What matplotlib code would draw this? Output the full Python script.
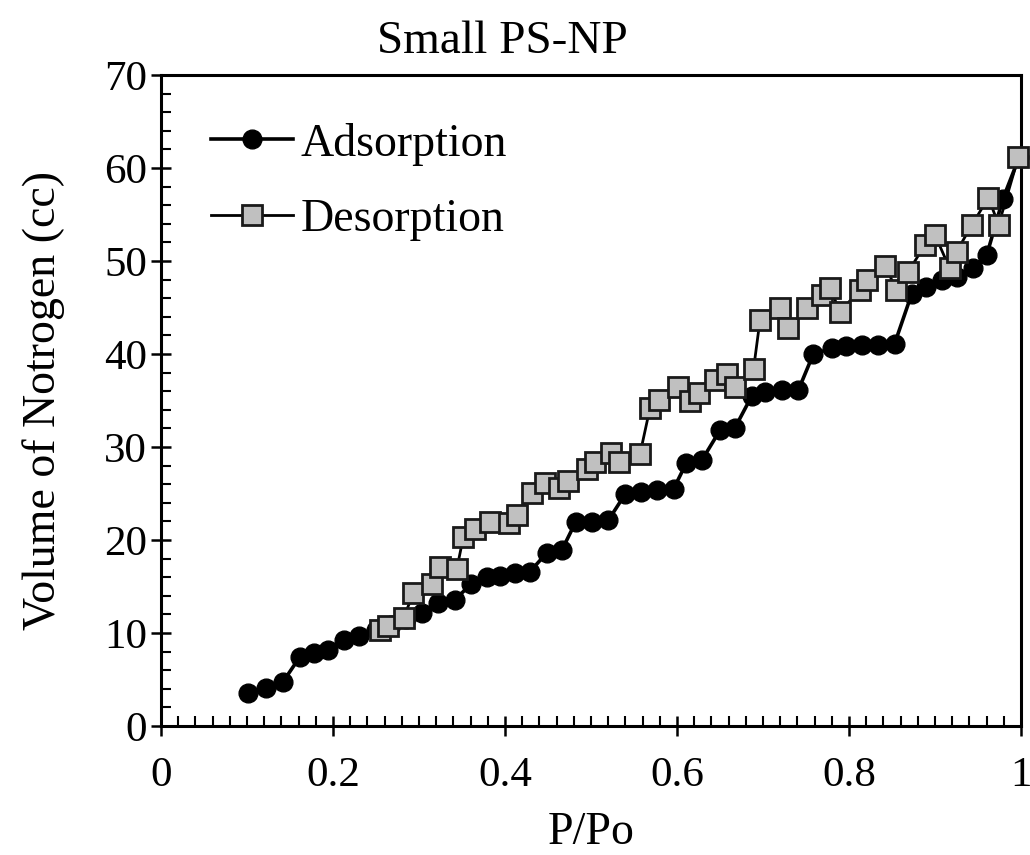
import matplotlib
matplotlib.use("Agg")
import matplotlib.pyplot as plt
from matplotlib.ticker import MultipleLocator, FuncFormatter

plt.rcParams['font.family'] = ['Liberation Serif', 'DejaVu Serif']

ads_x = [0.101, 0.122, 0.1415, 0.1616, 0.178, 0.1945, 0.2128, 0.2306, 0.25, 0.268,
         0.285, 0.303, 0.3225, 0.342, 0.361, 0.379, 0.394, 0.4116, 0.429, 0.4485,
         0.466, 0.482, 0.501, 0.52, 0.5395, 0.558, 0.577, 0.596, 0.611, 0.629,
         0.65, 0.667, 0.687, 0.702, 0.722, 0.741, 0.7585, 0.78, 0.797, 0.815,
         0.834, 0.853, 0.873, 0.89, 0.908, 0.925, 0.9445, 0.96, 0.979, 0.998]
ads_y = [3.6, 4.05, 4.7, 7.45, 7.9, 8.2, 9.25, 9.7, 10.3, 10.9,
         11.5, 12.1, 13.2, 13.6, 15.3, 16.0, 16.1, 16.4, 16.6, 18.6,
         18.9, 21.9, 21.95, 22.1, 24.9, 25.2, 25.4, 25.5, 28.3, 28.6,
         31.8, 32.0, 35.5, 35.9, 36.1, 36.1, 40.0, 40.6, 40.9, 41.0,
         41.0, 41.1, 46.5, 47.2, 48.0, 48.3, 49.2, 50.6, 56.7, 61.2]

des_x = [0.2547, 0.264, 0.282, 0.2935, 0.315, 0.3244, 0.344, 0.3515, 0.365, 0.3826,
         0.405, 0.4136, 0.431, 0.4465, 0.463, 0.4736, 0.495, 0.5047, 0.523, 0.533,
         0.557, 0.5686, 0.579, 0.6015, 0.615, 0.625, 0.644, 0.658, 0.667, 0.689,
         0.6965, 0.72, 0.7295, 0.751, 0.768, 0.778, 0.7895, 0.8128, 0.8205, 0.842,
         0.855, 0.869, 0.888, 0.9, 0.917, 0.925, 0.943, 0.962, 0.974, 0.997]
des_y = [10.3, 10.7, 11.6, 14.3, 15.3, 17.1, 16.9, 20.3, 21.2, 21.97,
         21.86, 22.7, 25.1, 26.1, 25.6, 26.3, 27.6, 28.4, 29.4, 28.4,
         29.25, 34.2, 35.1, 36.5, 34.9, 35.8, 37.2, 37.9, 36.5, 38.4,
         43.65, 44.9, 42.75, 44.9, 46.3, 47.05, 44.55, 46.9, 47.96, 49.5,
         46.9, 48.85, 51.7, 52.8, 49.2, 51.0, 53.9, 56.8, 53.9, 61.2]

fig = plt.figure(figsize=(10.3, 8.55), dpi=100)
ax = fig.add_axes([0.1563, 0.1509, 0.835, 0.7614])

ax.plot(ads_x, ads_y, color='black', lw=2.6, marker='o', markersize=13.5,
        markerfacecolor='black', markeredgecolor='black', label='Adsorption',
        clip_on=False, zorder=3)
ax.plot(des_x, des_y, color='black', lw=2.0, marker='s', markersize=14.5,
        markerfacecolor='#c0c0c0', markeredgecolor='#1a1a1a', markeredgewidth=2.0,
        label='Desorption', clip_on=False, zorder=4)

ax.set_xlim(0, 1)
ax.set_ylim(0, 70)
ax.xaxis.set_major_locator(MultipleLocator(0.2))
ax.xaxis.set_minor_locator(MultipleLocator(0.02))
ax.yaxis.set_major_locator(MultipleLocator(10))
ax.yaxis.set_minor_locator(MultipleLocator(2))
ax.xaxis.set_major_formatter(FuncFormatter(
    lambda v, p: '0' if abs(v) < 1e-9 else ('1' if abs(v - 1) < 1e-9 else f'{v:.1f}')))

ax.tick_params(which='major', direction='inout', length=14, width=1.8,
               labelsize=31, top=False, right=False)
ax.tick_params(which='minor', direction='in', length=7, width=1.5,
               top=False, right=False)
ax.tick_params(axis='x', which='major', pad=15)
ax.tick_params(axis='y', which='major', pad=3)
for s in ax.spines.values():
    s.set_linewidth(2.2)

fig.text(0.488, 0.951, 'Small PS-NP', fontsize=34, ha='center', va='center')
ax.set_xlabel('P/Po', fontsize=33, labelpad=12)
ax.set_ylabel('Volume of Notrogen (cc)', fontsize=33, labelpad=28)

leg = ax.legend(loc='upper left', frameon=False, fontsize=33,
                bbox_to_anchor=(0.058, 0.927), handlelength=1.8,
                handletextpad=0.15, labelspacing=0.73, borderaxespad=0,
                borderpad=0)

fig.savefig('out.png', dpi=100)
